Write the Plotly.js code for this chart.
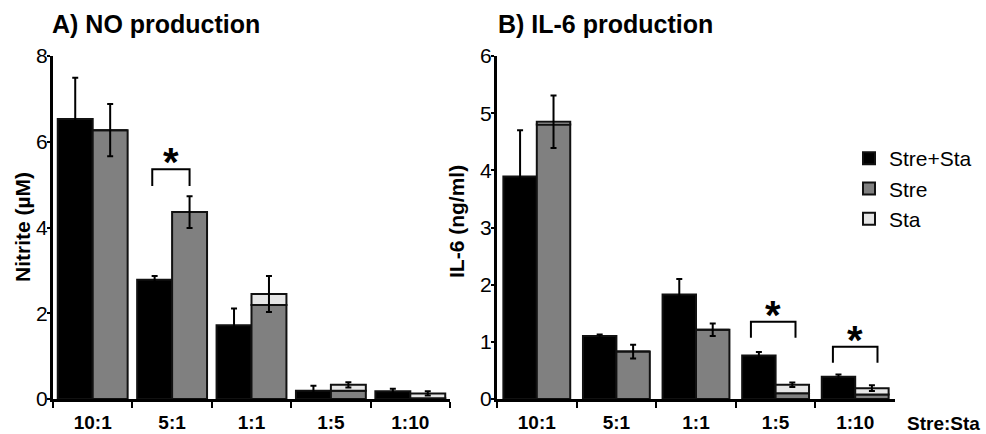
<!DOCTYPE html>
<html><head><meta charset="utf-8">
<script src="https://cdn.plot.ly/plotly-3.0.1.min.js"></script>
<style>html,body{margin:0;padding:0;background:#fff}#chart{width:986px;height:434px}</style>
</head><body><div id="chart"></div>
<script>
// ---- data ----
const categories = ['10:1', '5:1', '1:1', '1:5', '1:10'];
const seriesNames = ['Stre+Sta', 'Stre', 'Sta'];

// A) NO production, Nitrite (µM)
const noMix      = [6.53, 2.78, 1.72, 0.19, 0.18];
const noMixErr   = [0.96, 0.09, 0.39, 0.12, 0.06];
const noStre     = [6.27, 4.36, 2.19, 0.19, 0.02];
const noSta      = [0.00, 0.00, 0.26, 0.14, 0.11];
const noSumErr   = [0.61, 0.37, 0.42, 0.06, 0.05];

// B) IL-6 production, IL-6 (ng/ml)
const il6Mix     = [3.89, 1.10, 1.83, 0.76, 0.39];
const il6MixErr  = [0.81, 0.03, 0.27, 0.06, 0.04];
const il6Stre    = [4.80, 0.83, 1.21, 0.10, 0.08];
const il6Sta     = [0.05, 0.00, 0.00, 0.15, 0.11];
const il6SumErr  = [0.46, 0.12, 0.11, 0.04, 0.05];

const FONT = 'Liberation Sans, Arial, sans-serif';
const colMix = '#000000', colStre = '#808080', colSta = '#e6e6e6', edge = '#111111';

function panel(xa, ya, mix, mixErr, stre, sta, sumErr, w, showLeg) {
  const errStyle = {type: 'data', visible: true, color: '#000', thickness: 2, width: 3};
  return [
    {type: 'bar', name: seriesNames[0], x: categories, y: mix, xaxis: xa, yaxis: ya,
     offset: -w, width: w, marker: {color: colMix, line: {color: edge, width: 2}},
     error_y: Object.assign({array: mixErr}, errStyle), showlegend: showLeg},
    {type: 'bar', name: seriesNames[1], x: categories, y: stre, xaxis: xa, yaxis: ya,
     offset: 0, width: w, marker: {color: colStre, line: {color: edge, width: 2}},
     showlegend: showLeg},
    {type: 'bar', name: seriesNames[2], x: categories, y: sta, base: stre, xaxis: xa, yaxis: ya,
     offset: 0, width: w, marker: {color: colSta, line: {color: edge, width: 2}},
     error_y: Object.assign({array: sumErr}, errStyle), showlegend: showLeg}
  ];
}

const traces = [].concat(
  panel('x', 'y', noMix, noMixErr, noStre, noSta, noSumErr, 0.44, true),
  panel('x2', 'y2', il6Mix, il6MixErr, il6Stre, il6Sta, il6SumErr, 0.42, false)
);

const W = 986, H = 434;
const yDom = [(H - 399) / H, (H - 56) / H];

function xAxis(dom) {
  return {domain: dom, type: 'category', showgrid: false, zeroline: false,
    showline: true, linecolor: '#000', linewidth: 3,
    ticks: 'outside', tickson: 'boundaries', ticklen: 6, tickwidth: 2, tickcolor: '#000',
    tickfont: {family: FONT, size: 19, color: '#000', weight: 'bold'},
    ticklabelstandoff: 4, fixedrange: true};
}
function yAxis(range, dtick, anchor) {
  return {domain: yDom, range: range, dtick: dtick, anchor: anchor, showgrid: false, zeroline: false,
    showline: true, linecolor: '#000', linewidth: 3,
    ticks: 'outside', ticklen: 3, tickwidth: 2, tickcolor: '#000',
    tickfont: {family: FONT, size: 21, color: '#000'}, ticklabelstandoff: -5};
}

const bracket = (xr, yr, x0, x1, yTop, yLeg) => ({
  type: 'path', xref: xr, yref: yr,
  path: `M${x0},${yLeg} L${x0},${yTop} L${x1},${yTop} L${x1},${yLeg}`,
  line: {color: '#000', width: 2}
});

const star = (xr, yr, x, y) => ({text: '*', xref: xr, yref: yr, x: x, y: y,
  xanchor: 'center', yanchor: 'bottom', yshift: -17, showarrow: false,
  font: {family: FONT, size: 40, weight: 'bold', color: '#000'}});

const layout = {
  width: W, height: H, margin: {l: 0, r: 0, t: 0, b: 0},
  paper_bgcolor: '#fff', plot_bgcolor: 'rgba(0,0,0,0)',
  barmode: 'overlay', font: {family: FONT, color: '#000'},
  xaxis: xAxis([53 / W, 450 / W]), yaxis: yAxis([0, 8], 2, 'x'),
  xaxis2: xAxis([497 / W, 895 / W]), yaxis2: yAxis([0, 6], 1, 'x2'),
  showlegend: true,
  legend: {x: 849 / W, xanchor: 'left', y: 1 - 138 / H, yanchor: 'top',
    font: {family: FONT, size: 21, color: '#000'}, bgcolor: 'rgba(0,0,0,0)',
    traceorder: 'normal', itemclick: false},
  shapes: [
    bracket('x', 'y', 1 - 0.25, 1 + 0.22, 5.36, 4.97),
    bracket('x2', 'y2', 3 - 0.31, 3 + 0.25, 1.35, 1.07),
    bracket('x2', 'y2', 4 - 0.28, 4 + 0.28, 0.915, 0.635)
  ],
  annotations: [
    {text: 'A) NO production', xref: 'paper', yref: 'paper', x: 50 / W, y: 1 - 24 / H,
     xanchor: 'left', yanchor: 'middle', showarrow: false,
     font: {family: FONT, size: 25, weight: 'bold', color: '#000'}},
    {text: 'B) IL-6 production', xref: 'paper', yref: 'paper', x: 496 / W, y: 1 - 24 / H,
     xanchor: 'left', yanchor: 'middle', showarrow: false,
     font: {family: FONT, size: 25, weight: 'bold', color: '#000'}},
    {text: 'Nitrite (µM)', xref: 'paper', yref: 'paper', x: 22 / W, y: 1 - 227 / H,
     textangle: -90, xanchor: 'center', yanchor: 'middle', showarrow: false,
     font: {family: FONT, size: 21, weight: 'bold', color: '#000'}},
    {text: 'IL-6 (ng/ml)', xref: 'paper', yref: 'paper', x: 456 / W, y: 1 - 222 / H,
     textangle: -90, xanchor: 'center', yanchor: 'middle', showarrow: false,
     font: {family: FONT, size: 21, weight: 'bold', color: '#000'}},
    {text: 'Stre:Sta', xref: 'paper', yref: 'paper', x: 943 / W, y: 1 - 423 / H,
     xanchor: 'center', yanchor: 'middle', showarrow: false,
     font: {family: FONT, size: 19, weight: 'bold', color: '#000'}},
    star('x', 'y', 1 - 0.015, 5.36),
    star('x2', 'y2', 3 - 0.03, 1.35),
    star('x2', 'y2', 4, 0.915)
  ]
};

Plotly.newPlot('chart', traces, layout, {displayModeBar: false, staticPlot: true});
</script></body></html>
